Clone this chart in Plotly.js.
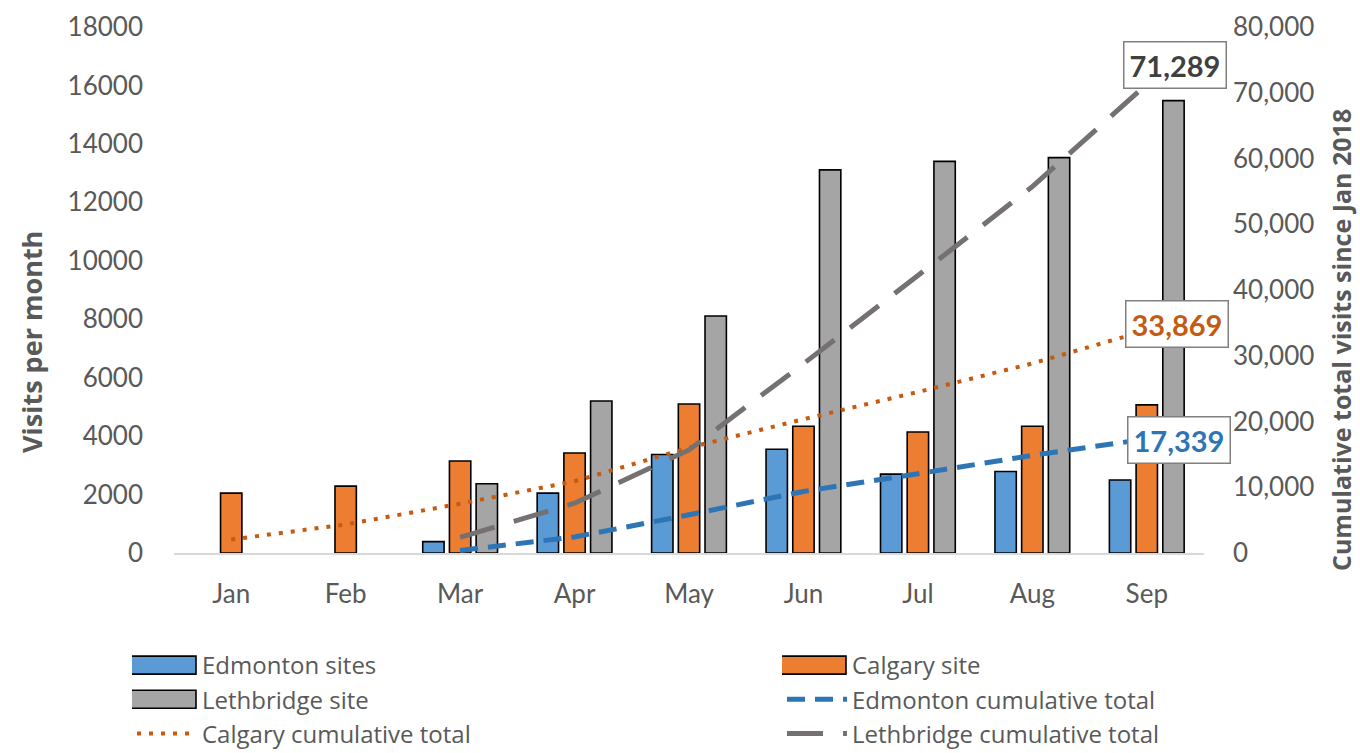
<!DOCTYPE html>
<html><head><meta charset="utf-8">
<script src="https://cdn.plot.ly/plotly-3.0.1.min.js"></script>
<style>body{margin:0;background:#fff}#chart{width:1360px;height:753px}</style>
</head><body><div id="chart"></div>
<script>
const months = ['Jan','Feb','Mar','Apr','May','Jun','Jul','Aug','Sep'];
const edmontonVisits = [null,null,390,2050,3370,3550,2700,2790,2500];
const calgaryVisits = [2050,2290,3150,3420,5100,4340,4140,4340,5070];
const lethbridgeVisits = [null,null,2370,5200,8110,13110,13400,13530,15480];
const edmontonCumulative = [null,null,390,2440,5810,9360,12060,14850,17339];
const calgaryCumulative = [2050,4340,7490,10910,16010,20350,24490,28830,33869];
const lethbridgeCumulative = [null,null,2370,7570,15680,28790,42190,55720,71289];
const leftTicks = [0,2000,4000,6000,8000,10000,12000,14000,16000,18000];
const rightTicks = [0,10000,20000,30000,40000,50000,60000,70000,80000];
const leftTitle = 'Visits per month';
const rightTitle = 'Cumulative total visits since Jan 2018';

const FONT = 'Lato, "Open Sans", sans-serif';
const TFONT = '"Open Sans", Lato, sans-serif';
const GREY = '#595959';
const barLine = {color:'#000000', width:1.6};

const traces = [
  {type:'bar', name:'Edmonton sites', x:months, y:edmontonVisits, marker:{color:'#5B9BD5', line:barLine}, legend:'legend'},
  {type:'bar', name:'Calgary site', x:months, y:calgaryVisits, marker:{color:'#ED7D31', line:barLine}, legend:'legend2'},
  {type:'bar', name:'Lethbridge site', x:months, y:lethbridgeVisits, marker:{color:'#A5A5A5', line:barLine}, legend:'legend'},
  {type:'scatter', mode:'lines', name:'Edmonton cumulative total', x:months, y:edmontonCumulative, yaxis:'y2',
   line:{color:'#2E75B6', width:5, dash:'18px,10px'}, legend:'legend2', connectgaps:false},
  {type:'scatter', mode:'lines', name:'Calgary cumulative total', x:months, y:calgaryCumulative, yaxis:'y2',
   line:{color:'#C55A11', width:4, dash:'4px,8px'}, legend:'legend'},
  {type:'scatter', mode:'lines', name:'Lethbridge cumulative total', x:months, y:lethbridgeCumulative, yaxis:'y2',
   line:{color:'#767171', width:5, dash:'36px,20px'}, legend:'legend2'}
];

function lastVal(a){ return a[a.length-1]; }
const annFont = {family:FONT, size:29, weight:700};
const annotations = [
  {x:'Sep', y:lastVal(lethbridgeCumulative), xref:'x', yref:'y2', text:'<b>'+lastVal(lethbridgeCumulative).toLocaleString('en-US')+'</b>',
   showarrow:false, xanchor:'left', yanchor:'bottom', xshift:-24, yshift:-5,
   font:Object.assign({}, annFont, {color:'#404040'}), bgcolor:'#ffffff', bordercolor:'#808080', borderwidth:1.5, borderpad:5},
  {x:'Sep', y:lastVal(calgaryCumulative), xref:'x', yref:'y2', text:'<b>'+lastVal(calgaryCumulative).toLocaleString('en-US')+'</b>',
   showarrow:false, xanchor:'left', yanchor:'middle', xshift:-22, yshift:6,
   font:Object.assign({}, annFont, {color:'#C55A11'}), bgcolor:'#ffffff', bordercolor:'#808080', borderwidth:1.5, borderpad:5},
  {x:'Sep', y:lastVal(edmontonCumulative), xref:'x', yref:'y2', text:'<b>'+lastVal(edmontonCumulative).toLocaleString('en-US')+'</b>',
   showarrow:false, xanchor:'left', yanchor:'middle', xshift:-20, yshift:-1,
   font:Object.assign({}, annFont, {color:'#2E75B6'}), bgcolor:'#ffffff', bordercolor:'#808080', borderwidth:1.5, borderpad:5},
  {x:(31-174)/1030, y:(553-342)/526, xref:'paper', yref:'paper', text:'<b>'+leftTitle+'</b>', textangle:-90,
   showarrow:false, xanchor:'center', yanchor:'middle', font:{family:TFONT, size:27, color:GREY}},
  {x:(1341-174)/1030, y:(553-340)/526, xref:'paper', yref:'paper', text:'<b>'+rightTitle+'</b>', textangle:-90,
   showarrow:false, xanchor:'center', yanchor:'middle', font:{family:TFONT, size:25, color:GREY}}
];

const legendBase = {
  xref:'container', yref:'container', xanchor:'left', yanchor:'top', y:1-643/753,
  orientation:'v', font:{family:TFONT, size:24, color:GREY}, itemwidth:60,
  bgcolor:'rgba(0,0,0,0)', tracegroupgap:0
};

const layout = {
  width:1360, height:753,
  margin:{l:174, r:156, t:27, b:200, pad:0, autoexpand:false},
  paper_bgcolor:'#ffffff', plot_bgcolor:'#ffffff',
  font:{family:FONT, color:GREY},
  barmode:'group', bargap:0.3, bargroupgap:0.2,
  showlegend:true,
  xaxis:{type:'category', categoryorder:'array', categoryarray:months, range:[-0.5, months.length-0.5], automargin:false,
    showgrid:false, zeroline:false, showline:true, linecolor:'#D9D9D9', linewidth:1.5,
    ticks:'', ticklabelstandoff:17, tickfont:{family:FONT, size:26, color:GREY}, fixedrange:true},
  yaxis:{range:[0,18000], tickvals:leftTicks, tickformat:'d', showgrid:false, zeroline:false, showline:false, automargin:false,
    ticks:'', ticklabelstandoff:30, tickfont:{family:FONT, size:26, color:GREY}},
  yaxis2:{overlaying:'y', side:'right', range:[0,80000], tickvals:rightTicks, tickformat:',d', showgrid:false, automargin:false,
    zeroline:false, showline:false, ticks:'', ticklabelstandoff:28, tickfont:{family:FONT, size:26, color:GREY}},
  legend:Object.assign({}, legendBase, {x:132/1360}),
  legend2:Object.assign({}, legendBase, {x:782/1360}),
  annotations:annotations
};

function widenLegendBars(){
  document.querySelectorAll('#chart .legendpoints path').forEach(p => {
    const d = (p.getAttribute('d') || '').replace(/\s/g,'');
    if (p.classList.contains('legendbar') || d === 'M6,6H-6V-6H6Z') {
      p.setAttribute('d', 'M29,9H-39V-9H29Z');
    }
  });
}

Plotly.newPlot('chart', traces, layout, {displayModeBar:false, staticPlot:true}).then(gd => {
  widenLegendBars();
  setTimeout(widenLegendBars, 50);
  setTimeout(widenLegendBars, 300);
  gd.on('plotly_afterplot', () => setTimeout(widenLegendBars, 0));
});
</script>
</body></html>
